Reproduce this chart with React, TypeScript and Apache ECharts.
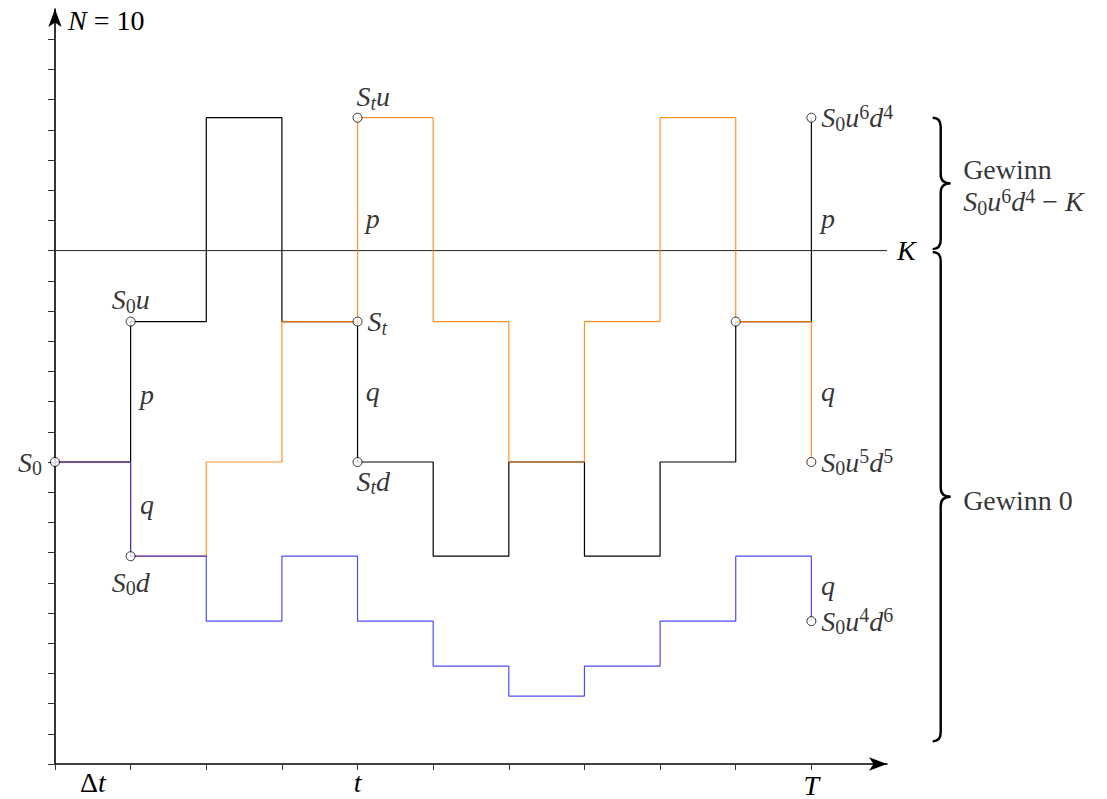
import React, { useEffect, useRef } from 'react';
import * as echarts from 'echarts';

// ---- data ----
const steps = [0, 1, 2, 3, 4, 5, 6, 7, 8, 9, 10];
const blackPath = [10, 14.65, 21.4, 14.65, 10, 6.88, 10, 6.88, 10, 14.65, 21.4];
const orangePath = [10, 6.88, 10, 14.65, 21.4, 14.65, 10, 14.65, 21.4, 14.65, 10];
const bluePath = [10, 6.88, 4.73, 6.88, 4.73, 3.24, 2.25, 3.24, 4.73, 6.88, 4.73];
const strikeK = 17;
const xTickValues = [0, 1, 2, 3, 4, 5, 6, 7, 8, 9, 10];
const yTickValues = [0, 1, 2, 3, 4, 5, 6, 7, 8, 9, 10, 11, 12, 13, 14, 15, 16, 17, 18, 19, 20, 21, 22, 23, 24];
const xLabelValues = [0.5, 4, 10];
const xLabelTexts = ['{u|Δ}{i|t}', '{i|t}', '{T|T}'];

const nodeXs = [0, 1, 1, 4, 4, 4, 9, 10, 10, 10];
const nodeYs = [bluePath[0], blackPath[1], bluePath[1], orangePath[4], orangePath[3], blackPath[4], blackPath[9], blackPath[10], orangePath[10], bluePath[10]];
const nodeTexts = [
  '{i|S}{s|0}',
  '{i|S}{s|0}{i|u}',
  '{i|S}{s|0}{i|d}',
  '{i|S}{st|t}{i|u}',
  '{i|S}{st|t}',
  '{i|S}{st|t}{i|d}',
  '',
  '{i|S}{s|0}{i|u}{p|6}{i|d}{p|4}',
  '{i|S}{s|0}{i|u}{p|5}{i|d}{p|5}',
  '{i|S}{s|0}{i|u}{p|4}{i|d}{p|6}',
];
const nodePlaces = ['left', 'top', 'bottom', 'topLeft', 'right', 'bottomLeft', 'none', 'right', 'right', 'right'];

const probXs = [1.215, 1.215, 4.2, 4.2, 10.22, 10.22, 10.22];
const probYs = [12.23, 8.6, 18.05, 12.33, 18.05, 12.33, 5.92];
const probTexts = ['p', 'q', 'p', 'q', 'p', 'q', 'q'];

const braceX = 11.71;
const braceRanges = [
  [strikeK + 0.05, blackPath[10]],
  [0.75, strikeK - 0.05],
];
const gainXs = [12.0, 12.0];
const gainYs = [19.14, 8.73];
const gainTexts = ['{r|Gewinn}\n{i|S}{s|0}{i|u}{p|6}{i|d}{p|4}{r| − }{i|K}', '{r|Gewinn 0}'];

const SERIF = '"Liberation Serif", "DejaVu Serif", serif';
const FS = 28;
const SFS = 20;
const rich: any = {
  i: { fontFamily: SERIF, fontStyle: 'italic', fontSize: FS, lineHeight: 32, color: '#000' },
  r: { fontFamily: SERIF, fontSize: FS, lineHeight: 32, color: '#000' },
  u: { fontFamily: SERIF, fontSize: FS, lineHeight: 32, color: '#000' },
  T: { fontFamily: SERIF, fontStyle: 'italic', fontSize: FS, lineHeight: 32, color: '#000', padding: [6, 0, 0, 0] },
  s: { fontFamily: SERIF, fontSize: SFS, lineHeight: 18, verticalAlign: 'bottom', color: '#000' },
  st: { fontFamily: SERIF, fontStyle: 'italic', fontSize: SFS, lineHeight: 18, verticalAlign: 'bottom', color: '#000' },
  p: { fontFamily: SERIF, fontSize: SFS, lineHeight: 18, verticalAlign: 'top', color: '#000' },
};

function nodeLabel(place: string, text: string): any {
  const base: any = { show: place !== 'none', formatter: text, rich, fontSize: FS, fontFamily: SERIF, color: '#000' };
  if (place === 'left') return { ...base, position: 'left', distance: 8 };
  if (place === 'right') return { ...base, position: 'right', distance: 5 };
  if (place === 'top') return { ...base, position: 'top', distance: 1 };
  if (place === 'bottom') return { ...base, position: 'bottom', distance: 5 };
  if (place === 'topLeft') return { ...base, position: 'top', distance: 0, align: 'left', offset: [-1, 0] };
  if (place === 'bottomLeft') return { ...base, position: 'bottom', distance: 0, align: 'left', offset: [-1, -2] };
  return base;
}

function bracePath(xs: number, yt: number, yb: number) {
  const ym = (yt + yb) / 2;
  const h = 9;
  const w = 10;
  const hook = 8;
  return `M${xs - hook},${yt} Q${xs},${yt} ${xs},${yt + h} L${xs},${ym - h} Q${xs},${ym} ${xs + w},${ym} Q${xs},${ym} ${xs},${ym + h} L${xs},${yb - h} Q${xs},${yb} ${xs - hook},${yb}`;
}

export default function App() {
  const ref = useRef<HTMLDivElement>(null);
  useEffect(() => {
    if (!ref.current) return;
    const chart = echarts.init(ref.current, null, { renderer: 'svg' });
    const option: any = {
      animation: false,
      backgroundColor: '#fff',
      grid: { left: 55, right: 220, top: 9, bottom: 34, containLabel: false },
      xAxis: {
        type: 'value', min: 0, max: 11, interval: 1,
        splitLine: { show: false },
        axisLine: { onZero: false, lineStyle: { color: '#000', width: 1.6 }, symbol: ['none', 'arrow'], symbolSize: [10, 18] },
        axisTick: { show: true, customValues: xTickValues, length: 6, lineStyle: { color: '#333', width: 1 } },
        axisLabel: {
          customValues: xLabelValues, margin: 2, rich,
          formatter: (v: number) => { const k = xLabelValues.indexOf(v); return k >= 0 ? xLabelTexts[k] : ''; },
        },
      },
      yAxis: {
        type: 'value', min: 0, max: 25, interval: 1,
        splitLine: { show: false },
        axisLine: { onZero: false, lineStyle: { color: '#000', width: 1.6 }, symbol: ['none', 'arrow'], symbolSize: [10, 18] },
        axisTick: { show: true, customValues: yTickValues, length: 7, lineStyle: { color: '#333', width: 1 } },
        axisLabel: { show: false },
        name: '{i|N}{r| = 10}', nameLocation: 'end', nameGap: 0,
        nameTextStyle: { align: 'left', verticalAlign: 'top', padding: [-5, 0, 0, 13], rich },
      },
      series: [
        {
          type: 'line', name: 'K', data: [[0, strikeK], [11, strikeK]], showSymbol: false, silent: true,
          lineStyle: { color: '#222', width: 1 }, z: 1,
          endLabel: { show: true, formatter: '{i|K}', rich, distance: 10 },
        },
        {
          type: 'line', name: 'black', step: 'end', data: steps.map((x, i) => [x, blackPath[i]]), showSymbol: false,
          lineStyle: { color: '#000', width: 1.2 }, z: 2,
        },
        {
          type: 'line', name: 'orange', step: 'end', data: steps.map((x, i) => [x, orangePath[i]]), showSymbol: false,
          lineStyle: { color: '#ff8000', width: 1.2, opacity: 0.85 }, z: 3,
        },
        {
          type: 'line', name: 'blue', step: 'end', data: steps.map((x, i) => [x, bluePath[i]]), showSymbol: false,
          lineStyle: { color: '#0000ff', width: 1.2, opacity: 0.7 }, z: 4,
        },
        {
          type: 'scatter', name: 'nodes', clip: false, symbol: 'circle', symbolSize: 9, z: 10,
          itemStyle: { color: '#fff', borderColor: '#000', borderWidth: 1 },
          data: nodeXs.map((x, i) => ({ value: [x, nodeYs[i]], label: nodeLabel(nodePlaces[i], nodeTexts[i]) })),
        },
        {
          type: 'scatter', name: 'prob', clip: false, symbol: 'circle', symbolSize: 1, z: 11,
          itemStyle: { color: 'rgba(0,0,0,0)' },
          label: { show: true, position: 'inside', rich, formatter: (p: any) => `{i|${probTexts[p.dataIndex]}}` },
          data: probXs.map((x, i) => [x, probYs[i]]),
        },
        {
          type: 'scatter', name: 'gain', clip: false, symbol: 'circle', symbolSize: 1, z: 11,
          itemStyle: { color: 'rgba(0,0,0,0)' },
          label: { show: true, position: 'right', distance: 0, align: 'left', rich, lineHeight: 29, formatter: (p: any) => gainTexts[p.dataIndex] },
          data: gainXs.map((x, i) => [x, gainYs[i]]),
        },
        {
          type: 'custom', name: 'braces', clip: false, z: 5,
          encode: { x: 0, y: [1, 2] },
          data: braceRanges.map((r) => [braceX, r[0], r[1]]),
          renderItem: (params: any, api: any) => {
            const top = api.coord([api.value(0), api.value(2)]);
            const bot = api.coord([api.value(0), api.value(1)]);
            return {
              type: 'path',
              shape: { pathData: bracePath(top[0], top[1], bot[1]) },
              style: { fill: 'none', stroke: '#000', lineWidth: 2.4 },
            };
          },
        },
      ],
    };
    chart.setOption(option);
    return () => chart.dispose();
  }, []);
  return <div ref={ref} style={{ position: 'absolute', left: 0, top: 0, width: 1107, height: 799 }} />;
}
